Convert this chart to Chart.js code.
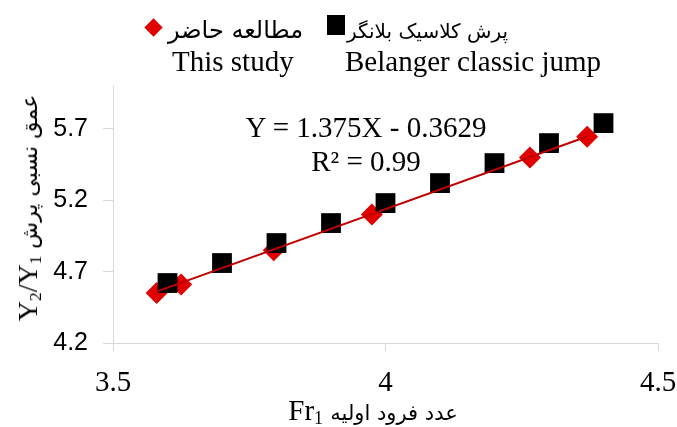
<!DOCTYPE html>
<html>
<head>
<meta charset="utf-8">
<title>Y2/Y1 - Fr1</title>
<script src="https://cdn.jsdelivr.net/npm/chart.js@4.4.0/dist/chart.umd.min.js"></script>
<style>
  body { margin: 0; background: #fff; }
  #wrap { position: relative; width: 677px; height: 427px; font-family: "Liberation Serif", serif; color: #000; }
  #wrap canvas { position: absolute; left: 0; top: 0; }
  .txt { position: absolute; white-space: nowrap; line-height: 1; font-size: 29px; }
  .fa { position: absolute; white-space: nowrap; line-height: 1; font-family: "DejaVu Sans", sans-serif; direction: rtl; }
  .faIn { font-family: "DejaVu Sans", sans-serif; }
  .center { transform: translateX(-50%); text-align: center; }
  sub { font-size: 0.62em; vertical-align: -0.22em; line-height: 0; }
  #mkStudy { position: absolute; left: 147px; top: 21px; width: 13px; height: 13px; background: #e00000; transform: rotate(45deg); }
  #mkBelanger { position: absolute; left: 327px; top: 15px; width: 18px; height: 20px; background: #000; }
  #yTitle { position: absolute; left: 28px; top: 208px; white-space: nowrap; line-height: 1; font-size: 28px; direction: ltr;
            transform: translate(-50%, -50%) rotate(-90deg); }
  #xTitle { position: absolute; left: 373px; top: 396px; white-space: nowrap; line-height: 1; font-size: 29px; direction: ltr;
            transform: translateX(-50%); }
</style>
</head>
<body>
<div id="wrap">
  <canvas id="chart" width="677" height="427"></canvas>

  <!-- legend -->
  <div id="mkStudy"></div>
  <div class="fa" style="right: 374px; top: 18px; font-size: 24px;">مطالعه حاضر</div>
  <div id="mkBelanger"></div>
  <div class="fa" style="right: 169px; top: 21px; font-size: 20px;">پرش کلاسیک بلانگر</div>
  <div class="txt" style="left: 172px; top: 47px;">This study</div>
  <div class="txt" style="left: 345px; top: 47px;">Belanger classic jump</div>

  <!-- fitted line equation -->
  <div class="txt center" style="left: 366px; top: 113px;">Y = 1.375X - 0.3629</div>
  <div class="txt center" style="left: 366px; top: 147px;">R² = 0.99</div>

  <!-- axis titles -->
  <div id="yTitle">Y<sub>2</sub>/Y<sub>1</sub> <span class="faIn" style="font-size: 22px;">عمق نسبی پرش</span></div>
  <div id="xTitle">Fr<sub>1</sub> <span class="faIn" style="font-size: 21px;">عدد فرود اولیه</span></div>
</div>

<script>
// Belanger classic jump
const frBelanger = [3.6, 3.7, 3.8, 3.9, 4.0, 4.1, 4.2, 4.3, 4.4];
const depthBelanger = [4.62, 4.76, 4.90, 5.04, 5.18, 5.32, 5.46, 5.60, 5.74];

// this study
const frStudy = [3.58, 3.625, 3.795, 3.975, 4.265, 4.37];
const depthStudy = [4.55, 4.61, 4.85, 5.10, 5.50, 5.645];

// linear fit of this study: Y = 1.375X - 0.3629
const fitSlope = 1.375;
const fitIntercept = -0.3629;

const xTicks = [3.5, 4, 4.5];
const yTicks = [4.2, 4.7, 5.2, 5.7];

function toPoints(xs, ys) {
    return xs.map(function(x, i) { return { x: x, y: ys[i] }; });
}

function fitLine() {
    let x0 = Math.min.apply(null, frStudy);
    let x1 = Math.max.apply(null, frStudy);
    return [
        { x: x0, y: fitSlope * x0 + fitIntercept },
        { x: x1, y: fitSlope * x1 + fitIntercept }
    ];
}

const axisGray = '#d9d9d9';

new Chart(document.getElementById('chart').getContext('2d'), {
    type: 'scatter',
    data: {
        datasets: [
            {
                label: 'trend',
                data: fitLine(),
                showLine: true,
                borderColor: '#c00000',
                borderWidth: 2,
                pointRadius: 0,
                order: 0
            },
            {
                label: 'Belanger classic jump',
                data: toPoints(frBelanger, depthBelanger),
                pointStyle: 'rect',
                pointRadius: 14,
                backgroundColor: '#000',
                borderColor: '#000',
                borderWidth: 0,
                order: 1
            },
            {
                label: 'This study',
                data: toPoints(frStudy, depthStudy),
                pointStyle: 'rectRot',
                pointRadius: 11,
                backgroundColor: '#e00000',
                borderColor: '#e00000',
                borderWidth: 0,
                order: 2
            }
        ]
    },
    options: {
        responsive: false,
        animation: false,
        layout: { padding: { top: 86, left: 13, right: 19, bottom: 0 } },
        plugins: {
            legend: { display: false },
            tooltip: { enabled: false }
        },
        scales: {
            x: {
                type: 'linear',
                min: 3.5,
                max: 4.5,
                afterBuildTicks: function(scale) {
                    scale.ticks = xTicks.map(function(v) { return { value: v }; });
                },
                // room below the plot is kept for the html axis title
                afterFit: function(scale) {
                    scale.height = 84;
                    scale.paddingLeft = 0;
                    scale.paddingRight = 0;
                },
                grid: { drawOnChartArea: false, drawTicks: true, tickLength: 8, color: axisGray },
                border: { color: axisGray, width: 1 },
                ticks: {
                    color: '#000',
                    padding: 18,
                    maxRotation: 0,
                    font: { family: 'Liberation Serif', size: 29, lineHeight: 1 },
                    callback: function(v) { return String(v); }
                }
            },
            y: {
                type: 'linear',
                min: 4.2,
                max: 6.0,
                afterBuildTicks: function(scale) {
                    scale.ticks = yTicks.map(function(v) { return { value: v }; });
                },
                afterFit: function(scale) {
                    scale.width = 100;
                    scale.paddingTop = 0;
                    scale.paddingBottom = 0;
                },
                grid: { drawOnChartArea: false, drawTicks: true, tickLength: 10, color: axisGray },
                border: { color: axisGray, width: 1 },
                ticks: {
                    color: '#000',
                    padding: 15,
                    font: { family: 'Liberation Sans', size: 25, lineHeight: 1 },
                    callback: function(v) { return String(v); }
                }
            }
        }
    }
});
</script>
</body>
</html>
